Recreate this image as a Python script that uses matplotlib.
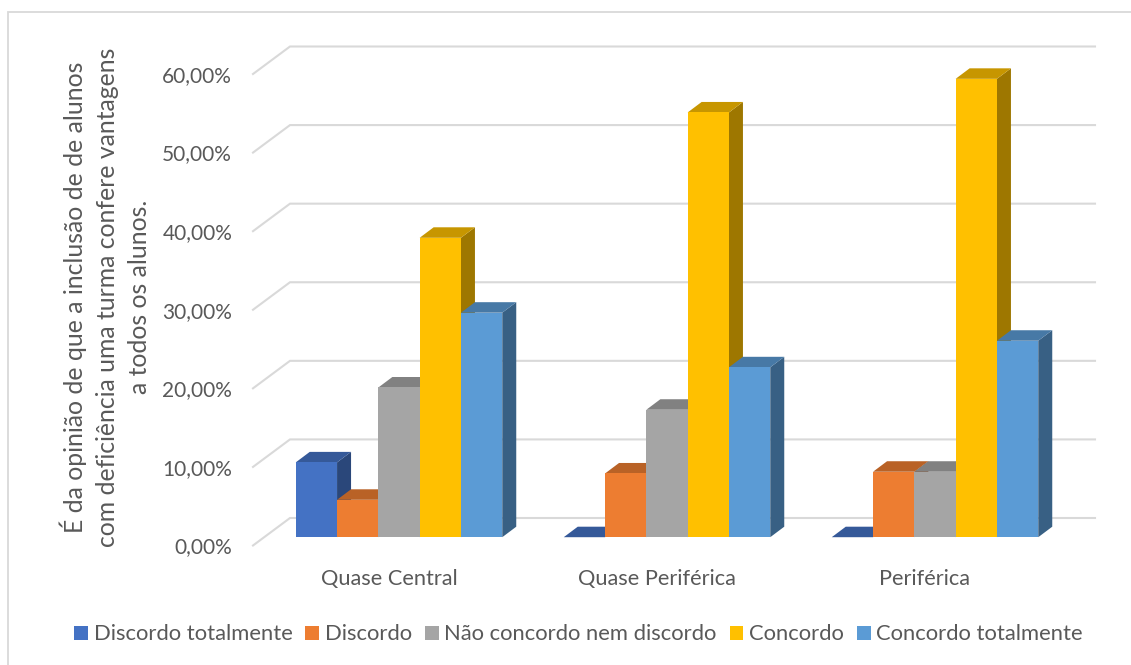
import matplotlib
matplotlib.use("Agg")
import matplotlib.pyplot as plt
from matplotlib.patches import Patch
from matplotlib.lines import Line2D
from matplotlib.transforms import Affine2D
import matplotlib.colors as mc

categories = ["Quase Central", "Quase Periférica", "Periférica"]
series_names = ["Discordo totalmente", "Discordo", "Não concordo nem discordo", "Concordo", "Concordo totalmente"]
discordo_totalmente = [9.52, 0.0, 0.0]
discordo = [4.76, 8.11, 8.33]
nem = [19.05, 16.22, 8.33]
concordo = [38.10, 54.05, 58.33]
concordo_totalmente = [28.57, 21.62, 25.0]
tick_values = [0, 10, 20, 30, 40, 50, 60]
tick_labels = ["0,00%", "10,00%", "20,00%", "30,00%", "40,00%", "50,00%", "60,00%"]
ylabel = "É da opinião de que a inclusão de de alunos\ncom deficiência uma turma confere vantagens\na todos os alunos."
colors = ["#4472C4", "#ED7D31", "#A5A5A5", "#FFC000", "#5B9BD5"]
all_series = [discordo_totalmente, discordo, nem, concordo, concordo_totalmente]

FONT = "Lato"
TXT = "#595959"
W, H = 1131, 665
plt.rcParams["font.family"] = [FONT, "DejaVu Sans"]
fig = plt.figure(figsize=(W / 100, H / 100), dpi=100, facecolor="white")
L, R, B, T = 253, 1095, 545.5, 74
ax = fig.add_axes([L / W, 1 - B / H, (R - L) / W, (B - T) / H])
ax.patch.set_alpha(0)
group_px = 268.0
first_tick = 389.0
ax.set_xlim((L - first_tick) / group_px, (R - first_tick) / group_px)
ax.set_ylim(0, 60)
for s in ax.spines.values():
    s.set_visible(False)

px_x = 1 / group_px
px_y = 60 / (B - T)

# walls
wall_dx, wall_dy = 37 * px_x, 27.5 * px_y
x0, x1 = ax.get_xlim()
for v in tick_values:
    ax.plot([x0, x0 + wall_dx, x1], [v, v + wall_dy, v + wall_dy], color="#D9D9D9", lw=1.5,
            clip_on=False, zorder=1, solid_joinstyle="miter")

# bars
bar_w = 41.3 * px_x
dep_x, dep_y = 14 * px_x, 10.5 * px_y
tr = ax.transData + Affine2D().translate(10, 8.3)
z = 3
n = len(all_series)
def shade(c, f):
    r, g, b = mc.to_rgb(c)
    return (r * f, g * f, b * f)
for g in range(len(categories)):
    for i, (vals, c) in enumerate(zip(all_series, colors)):
        v = vals[g]
        xl = g + (i - (n - 1) / 2 - 0.5) * bar_w
        xr = xl + bar_w
        ax.fill([xr, xr + dep_x, xr + dep_x, xr], [0, dep_y, v + dep_y, v], color=shade(c, 0.62),
                lw=0, transform=tr, clip_on=False, zorder=z)
        ax.fill([xl, xl + dep_x, xr + dep_x, xr], [v, v + dep_y, v + dep_y, v], color=shade(c, 0.78),
                lw=0, transform=tr, clip_on=False, zorder=z)
        ax.bar(xl, v, width=bar_w, align="edge", color=c, lw=0, transform=tr, clip_on=False, zorder=z)
        z += 1

ax.set_yticks(tick_values)
ax.set_yticklabels(tick_labels, fontsize=15, color=TXT)
ax.set_xticks(range(len(categories)))
ax.set_xticklabels(categories, fontsize=15.7, color=TXT)
ax.tick_params(axis="y", length=0, pad=15)
ax.tick_params(axis="x", length=0, pad=17)
ax.set_ylabel(ylabel, fontsize=17.8, color=TXT, ma="center", linespacing=1.47)
ax.yaxis.set_label_coords(-102 / (R - L), (B - 297) / (B - T))

handles = [Patch(facecolor=c, edgecolor="none", label=n_) for c, n_ in zip(colors, series_names)]
fig.legend(handles=handles, loc="center", bbox_to_anchor=(578.5 / W, 1 - 634.5 / H), ncol=5, frameon=False,
           fontsize=15.85, labelcolor=TXT, handlelength=0.63, handleheight=0.63, handletextpad=0.26,
           columnspacing=0.58, borderpad=0, borderaxespad=0)

fx, fy = 7.5 / W, 1 - 11.5 / H
fig.add_artist(Line2D([fx, fx, 1], [0, fy, fy], transform=fig.transFigure, color="#D9D9D9", lw=1.3,
                      solid_joinstyle="miter"))
fig.savefig("out.png", dpi=100)
